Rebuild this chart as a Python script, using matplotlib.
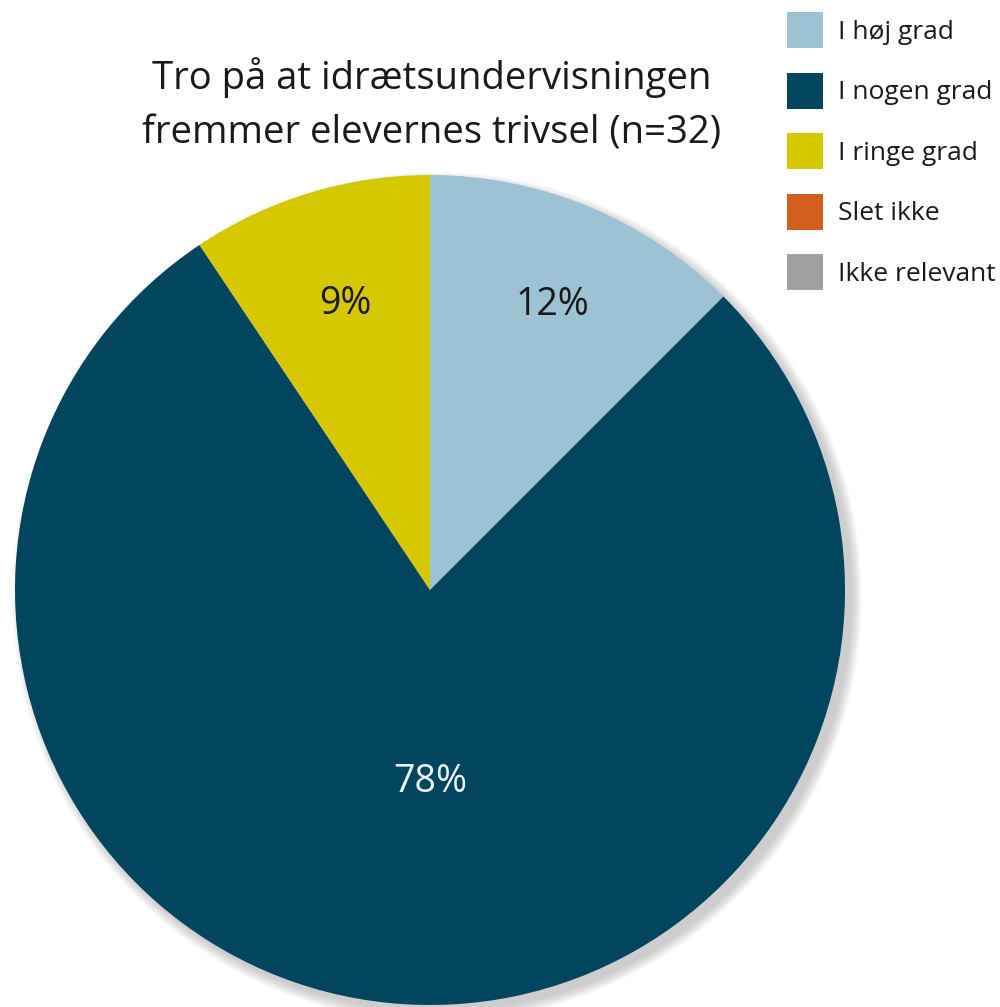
import numpy as np
import matplotlib
matplotlib.use("Agg")
import matplotlib.pyplot as plt
from matplotlib.patches import Circle, Patch

plt.rcParams['font.family'] = ['Open Sans', 'DejaVu Sans']

# data (n=32)
categories = ['I høj grad', 'I nogen grad', 'I ringe grad', 'Slet ikke', 'Ikke relevant']
counts = [4, 25, 3, 0, 0]
pct_labels = ['12%', '78%', '9%', '', '']
colors = ['#9cc2d3', '#02455f', '#d6c800', '#d35f1e', '#a0a0a0']
text_colors = ['#1a1a1a', '#eef6fa', '#1a1a1a', 'white', 'white']
title = 'Tro på at idrætsundervisningen\nfremmer elevernes trivsel (n=32)'

W, H = 1000, 1007
fig = plt.figure(figsize=(W / 100, H / 100), dpi=100)
ax = fig.add_axes([0, 0, 1, 1])

cx, cy, r = 430, H - 590, 415

# soft drop shadow
for k in range(14):
    ax.add_patch(Circle((cx + 7, cy - 7), r + 10 - k * 0.8, color='#606060',
                        alpha=0.025, lw=0, zorder=0))

idx = [i for i, c in enumerate(counts) if c > 0]
wedges, _ = ax.pie([counts[i] for i in idx], colors=[colors[i] for i in idx],
                   startangle=90, counterclock=False,
                   center=(cx, cy), radius=r, frame=True,
                   wedgeprops=dict(linewidth=0))
ax.set_xlim(0, W)
ax.set_ylim(0, H)
ax.set_aspect('equal')
ax.axis('off')

# label offsets from pie centre (px)
offsets = [(122, 285), (0, -192), (-85, 286)]
for i, (dx, dy) in zip(idx, offsets):
    ax.text(cx + dx, cy + dy, pct_labels[i], ha='center', va='center',
            fontsize=27, color=text_colors[i])

fig.text(0.432, 0.896, title, ha='center', va='center', fontsize=27.5,
         color='#1a1a1a', linespacing=1.56)

handles = [Patch(facecolor=c, edgecolor='none') for c in colors]
fig.legend(handles, categories, loc='upper left', bbox_to_anchor=(0.787, 0.988),
           frameon=False, fontsize=19, handlelength=1.36, handleheight=1.72,
           labelspacing=0.93, handletextpad=0.57, borderaxespad=0, borderpad=0,
           labelcolor='#1a1a1a')

fig.savefig('out.png', dpi=100, facecolor='white')
